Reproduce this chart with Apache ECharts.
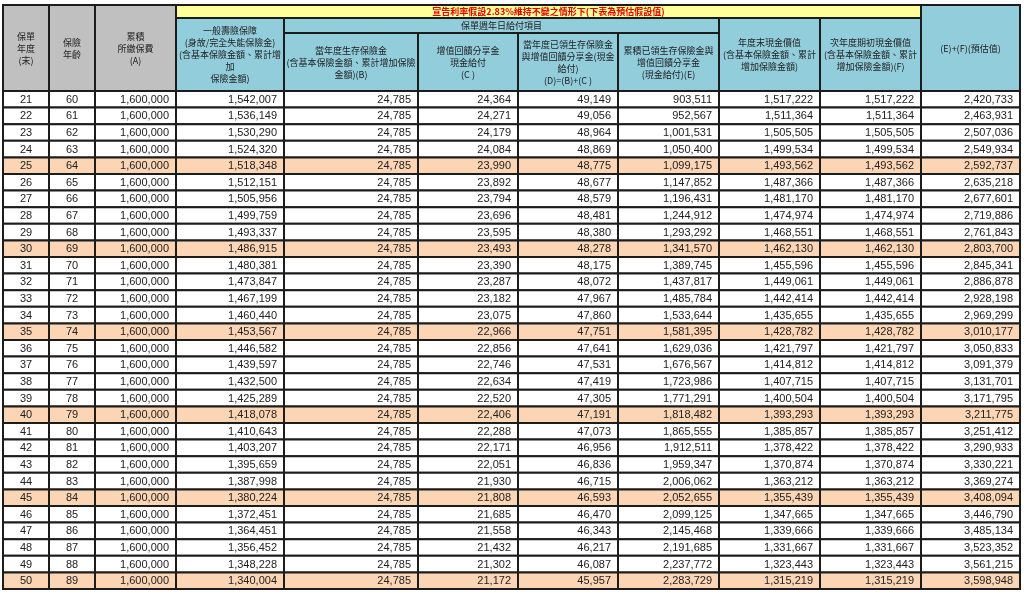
<!DOCTYPE html>
<html>
<head>
<meta charset="utf-8">
<script src="https://cdn.jsdelivr.net/npm/echarts@6/dist/echarts.min.js"></script>
<style>
html,body{margin:0;padding:0;background:#ffffff;}
#chart{width:1024px;height:596px;}
</style>
</head>
<body>
<div id="chart"></div>
<script>
// ---------------- DATA ----------------
const years = [21,22,23,24,25,26,27,28,29,30,31,32,33,34,35,36,37,38,39,40,41,42,43,44,45,46,47,48,49,50];
const ages = [60,61,62,63,64,65,66,67,68,69,70,71,72,73,74,75,76,77,78,79,80,81,82,83,84,85,86,87,88,89];
const premiumA = [1600000,1600000,1600000,1600000,1600000,1600000,1600000,1600000,1600000,1600000,
                  1600000,1600000,1600000,1600000,1600000,1600000,1600000,1600000,1600000,1600000,
                  1600000,1600000,1600000,1600000,1600000,1600000,1600000,1600000,1600000,1600000];
const deathBenefit = [1542007,1536149,1530290,1524320,1518348,1512151,1505956,1499759,1493337,1486915,
                      1480381,1473847,1467199,1460440,1453567,1446582,1439597,1432500,1425289,1418078,
                      1410643,1403207,1395659,1387998,1380224,1372451,1364451,1356452,1348228,1340004];
const survivalB = [24785,24785,24785,24785,24785,24785,24785,24785,24785,24785,
                   24785,24785,24785,24785,24785,24785,24785,24785,24785,24785,
                   24785,24785,24785,24785,24785,24785,24785,24785,24785,24785];
const dividendC = [24364,24271,24179,24084,23990,23892,23794,23696,23595,23493,
                   23390,23287,23182,23075,22966,22856,22746,22634,22520,22406,
                   22288,22171,22051,21930,21808,21685,21558,21432,21302,21172];
const totalD = [49149,49056,48964,48869,48775,48677,48579,48481,48380,48278,
                48175,48072,47967,47860,47751,47641,47531,47419,47305,47191,
                47073,46956,46836,46715,46593,46470,46343,46217,46087,45957];
const cumulativeE = [903511,952567,1001531,1050400,1099175,1147852,1196431,1244912,1293292,1341570,
                     1389745,1437817,1485784,1533644,1581395,1629036,1676567,1723986,1771291,1818482,
                     1865555,1912511,1959347,2006062,2052655,2099125,2145468,2191685,2237772,2283729];
const cashValueEnd = [1517222,1511364,1505505,1499534,1493562,1487366,1481170,1474974,1468551,1462130,
                      1455596,1449061,1442414,1435655,1428782,1421797,1414812,1407715,1400504,1393293,
                      1385857,1378422,1370874,1363212,1355439,1347665,1339666,1331667,1323443,1315219];
const cashValueNextF = [1517222,1511364,1505505,1499534,1493562,1487366,1481170,1474974,1468551,1462130,
                        1455596,1449061,1442414,1435655,1428782,1421797,1414812,1407715,1400504,1393293,
                        1385857,1378422,1370874,1363212,1355439,1347665,1339666,1331667,1323443,1315219];
const totalEF = [2420733,2463931,2507036,2549934,2592737,2635218,2677601,2719886,2761843,2803700,
                 2845341,2886878,2928198,2969299,3010177,3050833,3091379,3131701,3171795,3211775,
                 3251412,3290933,3330221,3369274,3408094,3446790,3485134,3523352,3561215,3598948];

// header texts
const titleText = '宣告利率假設2.83%維持不變之情形下(下表為預估假設值)';
const groupText = '保單週年日給付項目';
const headerLabels = [
  '保單\n年度\n(末)',
  '保險\n年齡',
  '累積\n所繳保費\n(A)',
  '一般壽險保障\n(身故/完全失能保險金)\n(含基本保險金額、累計增\n加\n保險金額)',
  '當年度生存保險金\n(含基本保險金額、累計增加保險\n金額)(B)',
  '增值回饋分享金\n現金給付\n(C )',
  '當年度已領生存保險金\n與增值回饋分享金(現金\n給付)\n(D)=(B)+(C )',
  '累積已領生存保險金與\n增值回饋分享金\n(現金給付)(E)',
  '年度末現金價值\n(含基本保險金額、累計\n增加保險金額)',
  '次年度期初現金價值\n(含基本保險金額、累計\n增加保險金額)(F)',
  '(E)+(F)(預估值)'
];

// ---------------- LAYOUT / STYLE ----------------
const columns = [years, ages, premiumA, deathBenefit, survivalB, dividendC, totalD, cumulativeE, cashValueEnd, cashValueNextF, totalEF];
const colWidths = [46,46,81,108,134,100,100,101,101,101,99];
const colEdges = [0];
colWidths.forEach(w => colEdges.push(colEdges[colEdges.length - 1] + w));
const TOTAL_W = colEdges[colEdges.length - 1];
const HEADER_H = 86;   // header units
const YELLOW_H = 13;
const GROUP_H = 28;

const GRAY = '#c0c0c0', TEAL = '#92cddc', YELLOW = '#ffff99', PEACH = '#fcd5b4';
const BORDER = '#1c1c1c';
const CJK = '"Noto Sans CJK TC","Noto Sans CJK SC",sans-serif';
const NUMFONT = '"Liberation Sans","Noto Sans",sans-serif';

// header cell definitions: [colStart, colEnd(exclusive), yStart, yEnd, text, fill, textColor]
const headerCells = [
  [0, 1, 0, HEADER_H, headerLabels[0], GRAY, '#222'],
  [1, 2, 0, HEADER_H, headerLabels[1], GRAY, '#222'],
  [2, 3, 0, HEADER_H, headerLabels[2], GRAY, '#222'],
  [3, 10, 0, YELLOW_H, titleText, YELLOW, '#e60000'],
  [3, 4, YELLOW_H, HEADER_H, headerLabels[3], TEAL, '#222'],
  [4, 8, YELLOW_H, GROUP_H, groupText, TEAL, '#222'],
  [4, 5, GROUP_H, HEADER_H, headerLabels[4], TEAL, '#222'],
  [5, 6, GROUP_H, HEADER_H, headerLabels[5], TEAL, '#222'],
  [6, 7, GROUP_H, HEADER_H, headerLabels[6], TEAL, '#222'],
  [7, 8, GROUP_H, HEADER_H, headerLabels[7], TEAL, '#222'],
  [8, 9, YELLOW_H, HEADER_H, headerLabels[8], TEAL, '#222'],
  [9, 10, YELLOW_H, HEADER_H, headerLabels[9], TEAL, '#222'],
  [10, 11, 0, HEADER_H, headerLabels[10], TEAL, '#222']
];

const fmt = v => v.toLocaleString('en-US');

function renderHeader(params, api) {
  const c = headerCells[params.dataIndex];
  const p0 = api.coord([colEdges[c[0]], c[2]]);
  const p1 = api.coord([colEdges[c[1]], c[3]]);
  const x = p0[0], y = p0[1], w = p1[0] - p0[0], h = p1[1] - p0[1];
  return {
    type: 'group',
    children: [
      { type: 'rect', shape: { x, y, width: w, height: h },
        style: { fill: c[5], stroke: BORDER, lineWidth: 2 } },
      { type: 'text', z2: 10,
        style: { text: c[4], x: x + w / 2, y: y + h / 2 + 0.5, align: 'center', verticalAlign: 'middle',
                 fill: c[6], fontSize: 9, lineHeight: 12, fontFamily: CJK, fontWeight: c[5] === YELLOW ? 'bold' : 'normal' } }
    ]
  };
}

function renderRow(params, api) {
  const i = params.dataIndex;
  const center = api.coord([0, i]);
  const h = api.size([0, 1])[1];
  const y = center[1] - h / 2;
  const fill = years[i] % 5 === 0 ? PEACH : '#ffffff';
  const children = [];
  for (let c = 0; c < columns.length; c++) {
    const x0 = api.coord([colEdges[c], i])[0];
    const x1 = api.coord([colEdges[c + 1], i])[0];
    children.push({ type: 'rect', shape: { x: x0, y, width: x1 - x0, height: h },
      style: { fill, stroke: BORDER, lineWidth: 2 } });
    const centered = c < 2;
    children.push({ type: 'text', z2: 10,
      style: { text: centered ? String(columns[c][i]) : fmt(columns[c][i]),
               x: centered ? (x0 + x1) / 2 : x1 - 7, y: center[1] + 0.5,
               align: centered ? 'center' : 'right', verticalAlign: 'middle',
               fill: '#222', fontSize: 11, fontFamily: NUMFONT } });
  }
  return { type: 'group', children };
}

const chart = echarts.init(document.getElementById('chart'), null, { renderer: 'canvas' });
chart.setOption({
  backgroundColor: '#ffffff',
  animation: false,
  grid: [
    { left: 3, top: 5, width: TOTAL_W, height: HEADER_H, outerBoundsMode: 'none' },
    { left: 3, top: 5 + HEADER_H, width: TOTAL_W, height: 498, outerBoundsMode: 'none' }
  ],
  xAxis: [
    { gridIndex: 0, type: 'value', min: 0, max: TOTAL_W, show: false },
    { gridIndex: 1, type: 'value', min: 0, max: TOTAL_W, show: false }
  ],
  yAxis: [
    { gridIndex: 0, type: 'value', min: 0, max: HEADER_H, inverse: true, show: false },
    { gridIndex: 1, type: 'category', data: years.map(String), inverse: true, show: false }
  ],
  series: [
    { type: 'custom', xAxisIndex: 0, yAxisIndex: 0, renderItem: renderHeader,
      data: headerCells.map((c, k) => [colEdges[c[0]], c[2]]), clip: false, silent: true },
    { type: 'custom', xAxisIndex: 1, yAxisIndex: 1, renderItem: renderRow,
      data: years.map((y, k) => [0, k]), clip: false, silent: true }
  ]
});
</script>
</body>
</html>
